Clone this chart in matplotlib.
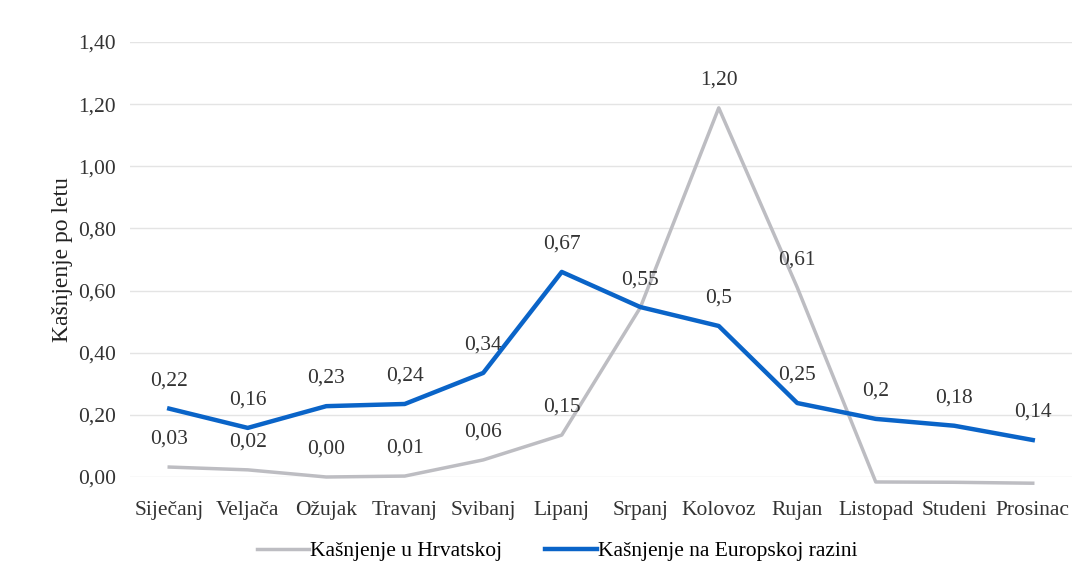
import matplotlib.pyplot as plt

# podaci
mjeseci = ["Siječanj", "Veljača", "Ožujak", "Travanj", "Svibanj", "Lipanj",
           "Srpanj", "Kolovoz", "Rujan", "Listopad", "Studeni", "Prosinac"]
hrvatska = [0.032, 0.023, 0.0, 0.003, 0.055, 0.135, 0.545, 1.188, 0.61, -0.016, -0.017, -0.02]
europa = [0.22, 0.158, 0.228, 0.235, 0.335, 0.66, 0.547, 0.486, 0.238, 0.187, 0.165, 0.119]
oznake_hr = ["0,03", "0,02", "0,00", "0,01", "0,06", "0,15", "0,55", "1,20", "0,61", "0,00", "0,00", "0,00"]
oznake_eu = ["0,22", "0,16", "0,23", "0,24", "0,34", "0,67", "", "0,5", "0,25", "0,2", "0,18", "0,14"]
y_ticks = [0, 0.2, 0.4, 0.6, 0.8, 1.0, 1.2, 1.4]

plt.rcParams['font.family'] = ['Liberation Serif', 'DejaVu Serif']

fig = plt.figure(figsize=(10.87, 5.81), dpi=100)
ax = fig.add_axes([130 / 1087, 1 - 477 / 581, (1072 - 130) / 1087, (477 - 42) / 581])

x = list(range(len(mjeseci)))
siva = '#BDBDC2'
plava = '#0A64C8'
ax.plot(x, hrvatska, color=siva, lw=2.5, label='Kašnjenje u Hrvatskoj', clip_on=False, zorder=3)
ax.plot(x, europa, color=plava, lw=3.2, label='Kašnjenje na Europskoj razini', clip_on=False, zorder=4)

for i in x:
    if oznake_hr[i]:
        ax.annotate(oznake_hr[i], (i, hrvatska[i]), xytext=(0, 20), textcoords='offset points',
                    ha='center', va='center', fontsize=15.5, color='#333333')
    if oznake_eu[i]:
        ax.annotate(oznake_eu[i], (i, europa[i]), xytext=(0, 20), textcoords='offset points',
                    ha='center', va='center', fontsize=15.5, color='#333333')

ax.set_xlim(-0.5, len(mjeseci) - 0.5)
ax.set_ylim(0, 1.4)
ax.set_yticks(y_ticks)
ax.set_yticklabels([f"{v:.2f}".replace('.', ',') for v in y_ticks])
ax.set_xticks(x)
ax.set_xticklabels(mjeseci)
ax.tick_params(axis='both', length=0, labelsize=15.5, colors='#333333')
ax.tick_params(axis='x', pad=17)
ax.tick_params(axis='y', pad=10)
ax.grid(axis='y', color='#E4E4E4', lw=1)
ax.set_axisbelow(True)
for s in ax.spines.values():
    s.set_visible(False)

ax.set_ylabel('Kašnjenje po letu', fontsize=17, color='#222222', labelpad=4)

leg = ax.legend(loc='center', ncol=2, frameon=False, fontsize=15.5,
                handlelength=2.4, handletextpad=0.05, columnspacing=2.0)
leg.set_bbox_to_anchor((557 / 1087, 1 - 551 / 581), transform=fig.transFigure)

fig.savefig('out.png', dpi=100)
